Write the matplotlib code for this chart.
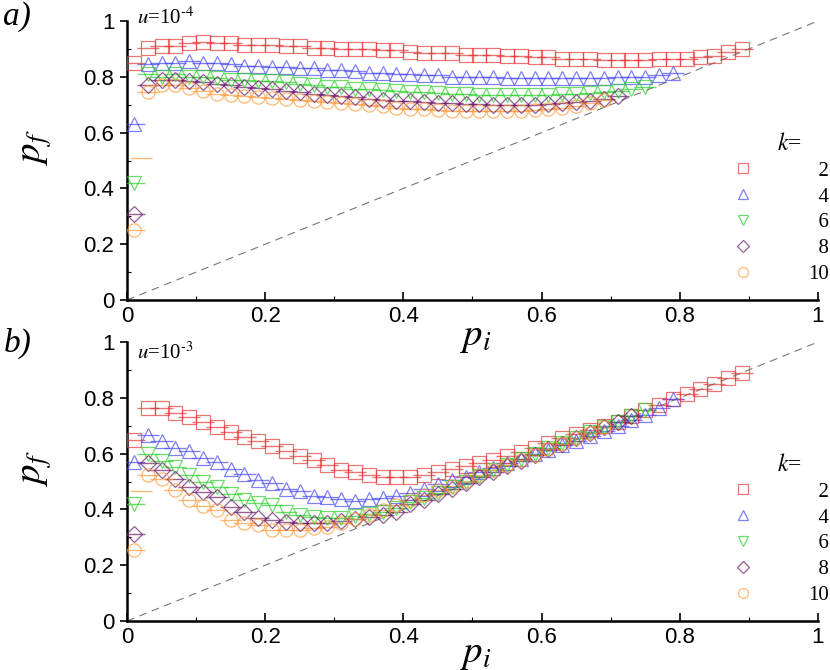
#!/usr/bin/env python3

import matplotlib
matplotlib.use('Agg')
from matplotlib import pyplot as plt
from matplotlib.lines import Line2D
from matplotlib.ticker import MultipleLocator, FuncFormatter

# common grid of initial fractions p_i
PI_GRID = [0.01, 0.03, 0.05, 0.07, 0.09, 0.11, 0.13, 0.15, 0.17, 0.19,
           0.21, 0.23, 0.25, 0.27, 0.29, 0.31, 0.33, 0.35, 0.37, 0.39,
           0.41, 0.43, 0.45, 0.47, 0.49, 0.51, 0.53, 0.55, 0.57, 0.59,
           0.61, 0.63, 0.65, 0.67, 0.69, 0.71, 0.73, 0.75, 0.77, 0.79,
           0.81, 0.83, 0.85, 0.87, 0.89]

K_VALUES = [2, 4, 6, 8, 10]

# panel a) u = 1e-4
PF_A_K2 = [0.85, 0.905, 0.91, 0.91, 0.92, 0.925, 0.92, 0.92, 0.915, 0.915,
           0.915, 0.91, 0.91, 0.905, 0.905, 0.90, 0.90, 0.90, 0.895, 0.895,
           0.89, 0.885, 0.885, 0.885, 0.88, 0.88, 0.88, 0.875, 0.875, 0.87,
           0.87, 0.865, 0.865, 0.865, 0.86, 0.86, 0.86, 0.86, 0.865, 0.865,
           0.865, 0.87, 0.875, 0.89, 0.90]
PF_A_K4 = [0.63, 0.845, 0.85, 0.85, 0.855, 0.85, 0.85, 0.845, 0.84, 0.84,
           0.835, 0.835, 0.83, 0.83, 0.825, 0.825, 0.82, 0.815, 0.815, 0.81,
           0.81, 0.805, 0.805, 0.80, 0.80, 0.80, 0.80, 0.795, 0.795, 0.795,
           0.795, 0.795, 0.795, 0.795, 0.795, 0.80, 0.80, 0.80, 0.805, 0.815]
PF_A_K6 = [0.42, 0.81, 0.80, 0.81, 0.80, 0.80, 0.795, 0.79, 0.79, 0.785,
           0.785, 0.78, 0.775, 0.77, 0.765, 0.762, 0.758, 0.755, 0.752, 0.748,
           0.746, 0.744, 0.742, 0.74, 0.738, 0.736, 0.735, 0.735, 0.735, 0.735,
           0.736, 0.738, 0.74, 0.742, 0.745, 0.75, 0.755, 0.762]
PF_A_K8 = [0.31, 0.77, 0.79, 0.79, 0.785, 0.78, 0.775, 0.77, 0.765, 0.76,
           0.755, 0.75, 0.745, 0.74, 0.735, 0.73, 0.726, 0.722, 0.718, 0.715,
           0.712, 0.71, 0.708, 0.705, 0.703, 0.702, 0.70, 0.70, 0.70, 0.70,
           0.702, 0.705, 0.71, 0.715, 0.72, 0.73]
PF_A_K10 = [0.25, 0.745, 0.77, 0.77, 0.76, 0.75, 0.74, 0.735, 0.73, 0.728,
            0.724, 0.72, 0.716, 0.712, 0.71, 0.706, 0.702, 0.698, 0.694, 0.69,
            0.686, 0.683, 0.68, 0.678, 0.677, 0.676, 0.676, 0.676, 0.678, 0.68,
            0.683, 0.688, 0.695, 0.705, 0.717]

# panel b) u = 1e-3
PF_B_K2 = [0.65, 0.762, 0.762, 0.745, 0.73, 0.712, 0.694, 0.678, 0.66, 0.645,
           0.627, 0.61, 0.59, 0.577, 0.56, 0.542, 0.533, 0.522, 0.515, 0.515,
           0.517, 0.525, 0.535, 0.545, 0.555, 0.565, 0.578, 0.593, 0.607, 0.62,
           0.637, 0.655, 0.67, 0.685, 0.70, 0.715, 0.735, 0.755, 0.775, 0.795,
           0.812, 0.83, 0.85, 0.87, 0.89]
PF_B_K4 = [0.57, 0.665, 0.645, 0.62, 0.61, 0.585, 0.57, 0.545, 0.527, 0.505,
           0.495, 0.472, 0.465, 0.448, 0.445, 0.437, 0.43, 0.437, 0.44, 0.448,
           0.46, 0.475, 0.49, 0.505, 0.518, 0.535, 0.55, 0.565, 0.58, 0.597,
           0.613, 0.63, 0.647, 0.664, 0.68, 0.70, 0.72, 0.74, 0.765, 0.795]
PF_B_K6 = [0.42, 0.597, 0.573, 0.553, 0.523, 0.499, 0.482, 0.455, 0.434, 0.422,
           0.416, 0.392, 0.38, 0.374, 0.371, 0.371, 0.376, 0.383, 0.392, 0.404,
           0.425, 0.44, 0.46, 0.48, 0.50, 0.52, 0.54, 0.56, 0.58, 0.60,
           0.62, 0.638, 0.657, 0.676, 0.695, 0.715, 0.735, 0.755]
PF_B_K8 = [0.312, 0.565, 0.541, 0.508, 0.479, 0.464, 0.446, 0.41, 0.392, 0.368,
           0.362, 0.354, 0.35, 0.35, 0.352, 0.358, 0.364, 0.374, 0.38, 0.392,
           0.42, 0.435, 0.455, 0.475, 0.495, 0.515, 0.535, 0.555, 0.575, 0.595,
           0.615, 0.635, 0.655, 0.675, 0.695, 0.715, 0.735]
PF_B_K10 = [0.254, 0.523, 0.508, 0.47, 0.434, 0.412, 0.398, 0.362, 0.352, 0.344,
            0.328, 0.326, 0.328, 0.332, 0.338, 0.352, 0.364, 0.38, 0.398, 0.416,
            0.434, 0.45, 0.468, 0.485, 0.503, 0.522, 0.54, 0.558, 0.577, 0.596,
            0.615, 0.635, 0.655, 0.675, 0.695]

# stray points near p_i = 0 drawn only as error bars (k=10)
EXTRA_PI = [0.02]
EXTRA_A_K10 = [0.51]
EXTRA_B_K10 = [0.465]

XERR = 0.016

COLORS = ['#e23a3a', '#4b4bf2', '#2fd12f', '#6b1c6b', '#ff9a3c']
MARKERS = ['s', '^', 'v', 'D', 'o']
SIZES = [10, 10.5, 10.5, 8.5, 9.5]


def fmt_tick(v, pos):
    return '%g' % round(v, 2)


def style_axis(ax, xlabel_y):
    ax.set_xlim(0, 1)
    ax.set_ylim(0, 1)
    ax.set_facecolor('none')
    for side in ['top', 'right']:
        ax.spines[side].set_visible(False)
    for side in ['left', 'bottom']:
        ax.spines[side].set_linewidth(1.8)
    ax.xaxis.set_major_locator(MultipleLocator(0.2))
    ax.xaxis.set_minor_locator(MultipleLocator(0.1))
    ax.yaxis.set_major_locator(MultipleLocator(0.2))
    ax.yaxis.set_minor_locator(MultipleLocator(0.1))
    ax.xaxis.set_major_formatter(FuncFormatter(fmt_tick))
    ax.yaxis.set_major_formatter(FuncFormatter(fmt_tick))
    ax.tick_params(axis='x', which='major', direction='in', length=6, width=1.2,
                   labelsize=16, pad=4)
    ax.tick_params(axis='x', which='minor', direction='in', length=3, width=0.8)
    ax.tick_params(axis='y', which='major', direction='out', length=5, width=1.2,
                   labelsize=16, pad=4)
    ax.tick_params(axis='y', which='minor', direction='in', length=3, width=0.8)
    ax.set_xlabel(r'$p_i$', fontsize=28)
    ax.set_ylabel(r'$p_f$', fontsize=28)
    ax.xaxis.set_label_coords(0.505, xlabel_y)
    ax.yaxis.set_label_coords(-0.105, 0.55)


def plot_panel(ax, series, extra, u_text, u_y):
    ax.plot([0, 1], [0, 1], ls=(0, (7, 5)), color='#777777', lw=0.8, zorder=1)
    for pf, col, mk, ms in zip(series, COLORS, MARKERS, SIZES):
        ax.errorbar(PI_GRID[:len(pf)], pf, xerr=XERR, fmt=mk, mfc='none',
                    mec=col, ecolor=col, ms=ms, mew=0.9, elinewidth=1.0,
                    capsize=0, alpha=0.7, zorder=3)
    ax.errorbar(EXTRA_PI, extra, xerr=XERR, fmt='none', ecolor=COLORS[4],
                elinewidth=1.0, alpha=0.7, zorder=3)

    ax.text(0.014, u_y, u_text, transform=ax.transAxes, fontsize=15,
            family='Liberation Serif', va='center', ha='left')

    handles = [Line2D([], [], ls='none', marker=mk, mfc='none', mec=col, ms=ms * 0.75,
                      mew=0.9, alpha=0.7)
               for col, mk, ms in zip(COLORS, MARKERS, SIZES)]
    labels = ['\u2007%d' % k if k < 10 else '%d' % k for k in K_VALUES]
    leg = ax.legend(handles, labels, loc='upper right', bbox_to_anchor=(1.043, 0.565),
                    frameon=False, handlelength=1.0, handletextpad=2.6,
                    labelspacing=0.3, prop={'family': 'Liberation Serif', 'size': 15})
    leg.set_clip_on(False)
    ax.text(0.94, 0.56, r'$k$=', transform=ax.transAxes, fontsize=17,
            family='Liberation Serif', va='center', ha='left')


def main():
    plt.rcParams['font.family'] = 'Liberation Sans'
    plt.rcParams['mathtext.fontset'] = 'stix'

    fig = plt.figure(figsize=(8.3, 6.7), dpi=100)
    ax_a = fig.add_axes([0.153, 0.5522, 0.8325, 0.4164])
    ax_b = fig.add_axes([0.153, 0.0731, 0.8325, 0.4164])

    plot_panel(ax_a, [PF_A_K2, PF_A_K4, PF_A_K6, PF_A_K8, PF_A_K10], EXTRA_A_K10,
               r'$u$=10$^{\text{-}4}$', 1.01)
    plot_panel(ax_b, [PF_B_K2, PF_B_K4, PF_B_K6, PF_B_K8, PF_B_K10], EXTRA_B_K10,
               r'$u$=10$^{\text{-}3}$', 0.96)
    style_axis(ax_a, -0.068)
    style_axis(ax_b, -0.052)

    fig.text(0.004, 1 - 17 / 670, 'a)', fontsize=24, style='italic',
             family='Liberation Serif', va='center', ha='left')
    fig.text(0.004, 1 - 343 / 670, 'b)', fontsize=24, style='italic',
             family='Liberation Serif', va='center', ha='left')

    fig.savefig('out.png', dpi=100)


if __name__ == "__main__":
    main()
